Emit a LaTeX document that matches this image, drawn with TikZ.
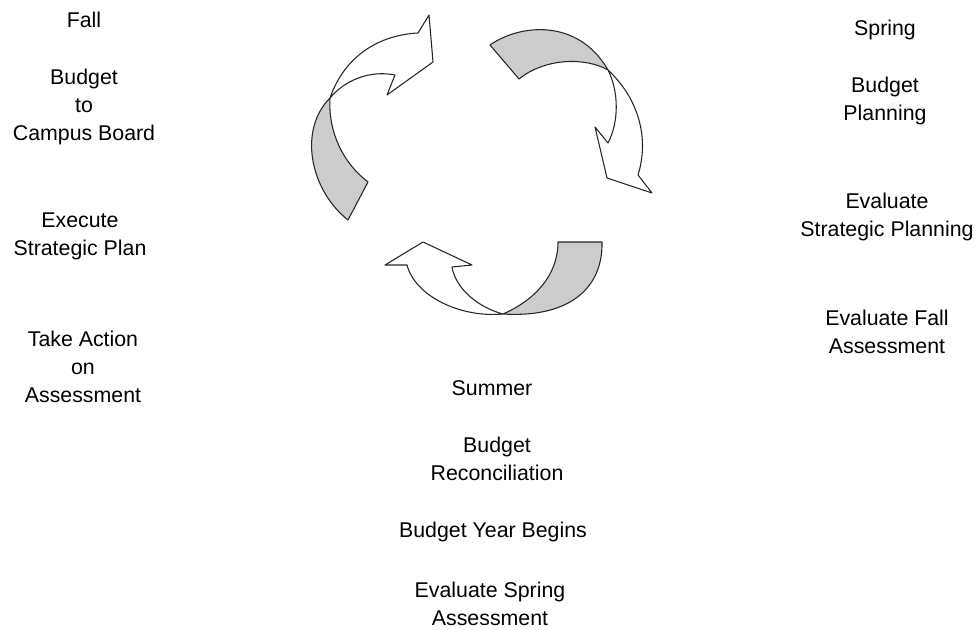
\documentclass[tikz,border=0pt]{standalone}
\usepackage{fontspec}
\setmainfont{Liberation Sans}
\begin{document}
\begin{tikzpicture}[x=0.75pt, y=-0.75pt,
    band/.style={draw=black!85, line width=0.8pt, line join=round, fill=black!20},
    head/.style={draw=black!85, line width=0.8pt, line join=round, fill=white},
    lbl/.style={align=center, inner sep=0pt, font=\fontsize{16}{21}\selectfont}]
    \useasboundingbox (0, 0) rectangle (980, 630);

    % Left arrow
    \draw[band] (348, 220) .. controls (310, 190) and (298, 130) .. (330, 98)
        .. controls (328, 132) and (343, 163) .. (368, 182) -- cycle;
    \draw[head] (330, 98) .. controls (345, 55) and (380, 35) .. (418, 33)
        -- (429, 15) -- (433, 62) -- (387, 95) -- (395, 75)
        .. controls (370, 70) and (345, 80) .. (330, 98) -- cycle;

    % Right arrow
    \draw[band] (490, 45) .. controls (520, 24) and (578, 18) .. (608, 70)
        .. controls (585, 57) and (545, 58) .. (519, 79) -- cycle;
    \draw[head] (608, 70) .. controls (619, 92) and (619, 122) .. (608, 143)
        -- (595, 127) -- (607, 178) -- (652, 193) -- (638, 175)
        .. controls (649, 140) and (640, 100) .. (608, 70) -- cycle;

    % Bottom arrow
    \draw[band] (558, 242) -- (602, 242) .. controls (603, 290) and (567, 318) .. (503, 314)
        .. controls (535, 300) and (558, 275) .. (558, 242) -- cycle;
    \draw[head] (503, 314) .. controls (460, 318) and (415, 296) .. (407, 265)
        -- (385, 265) -- (423, 242) -- (472, 265) -- (452, 267)
        .. controls (456, 290) and (480, 308) .. (503, 314) -- cycle;

    % Fall
    \node[lbl] (fall) at (84, 20) {Fall};
    \node[lbl] (fallbudget) at (84, 107) {Budget\\to\\Campus Board};
    \node[lbl] (execute) at (80, 236) {Execute\\Strategic Plan};
    \node[lbl] (action) at (83, 367) {Take Action\\on\\Assessment};

    % Spring
    \node[lbl] (spring) at (885, 30) {Spring};
    \node[lbl] (planning) at (885, 101) {Budget\\Planning};
    \node[lbl] (evalplan) at (887, 217) {Evaluate\\Strategic Planning};
    \node[lbl] (evalfall) at (887, 332) {Evaluate Fall\\Assessment};

    % Summer
    \node[lbl] (summer) at (492, 388) {Summer};
    \node[lbl] (reconcile) at (497, 459) {Budget\\Reconciliation};
    \node[lbl] (yearbegins) at (493, 532) {Budget Year Begins};
    \node[lbl] (evalspring) at (490, 604) {Evaluate Spring\\Assessment};
\end{tikzpicture}
\end{document}
